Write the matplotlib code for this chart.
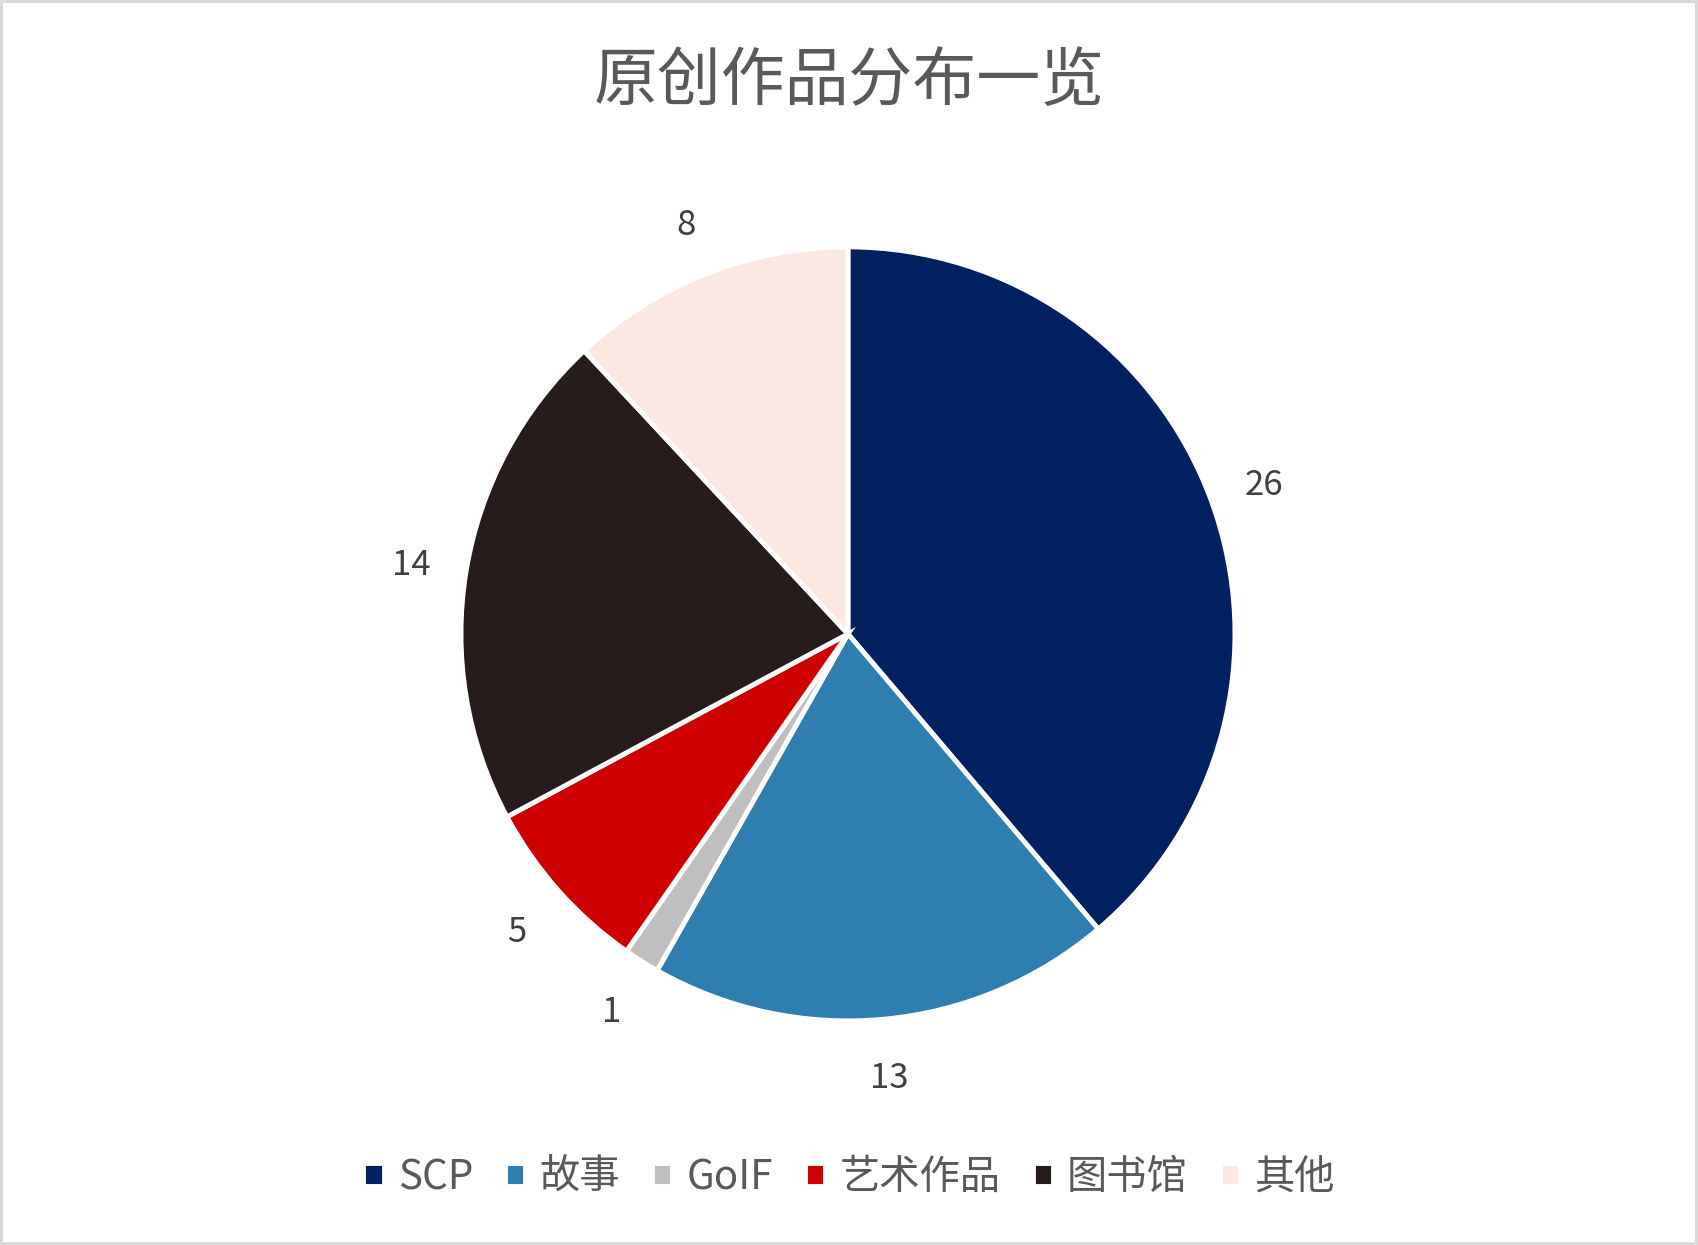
import matplotlib
matplotlib.use('Agg')
import matplotlib.pyplot as plt

plt.rcParams['font.family'] = ['Noto Sans CJK SC', 'DejaVu Sans']

# data
categories = ['SCP', '故事', 'GoIF', '艺术作品', '图书馆', '其他']
counts = [26, 13, 1, 5, 14, 8]
colors = ['#002060', '#2E7EB0', '#BFBFBF', '#CC0000', '#261C1C', '#FCE8E2']

text_color = '#595959'

fig = plt.figure(figsize=(16.98, 12.45), dpi=100)
fig.patch.set_edgecolor('#D9D9D9')
fig.patch.set_linewidth(3)

ax = fig.add_axes([0.2715, 0.18, 0.4558, 0.6217])
wedges, texts = ax.pie(counts, colors=colors, startangle=90, counterclock=False,
                       labels=[str(c) for c in counts], labeldistance=1.145,
                       wedgeprops=dict(edgecolor='white', linewidth=3.5),
                       textprops=dict(color='#404040', fontsize=25))
for t in texts:
    t.set_ha('center')
    t.set_va('center')
    x, y = t.get_position()
    t.set_position((x, y - 0.01))
ax.set_xlim(-1, 1)
ax.set_ylim(-1, 1)
ax.set_aspect('equal')

fig.text(0.5, 0.934, '原创作品分布一览', ha='center', va='center',
         fontsize=46, color=text_color)

leg = fig.legend(wedges, categories, loc='center', bbox_to_anchor=(0.5, 0.054),
                 ncol=6, frameon=False, fontsize=29, handlelength=0.5,
                 handleheight=0.5, handletextpad=0.35, columnspacing=0.8)
for t in leg.get_texts():
    t.set_color(text_color)

plt.savefig('out.png', dpi=100)
